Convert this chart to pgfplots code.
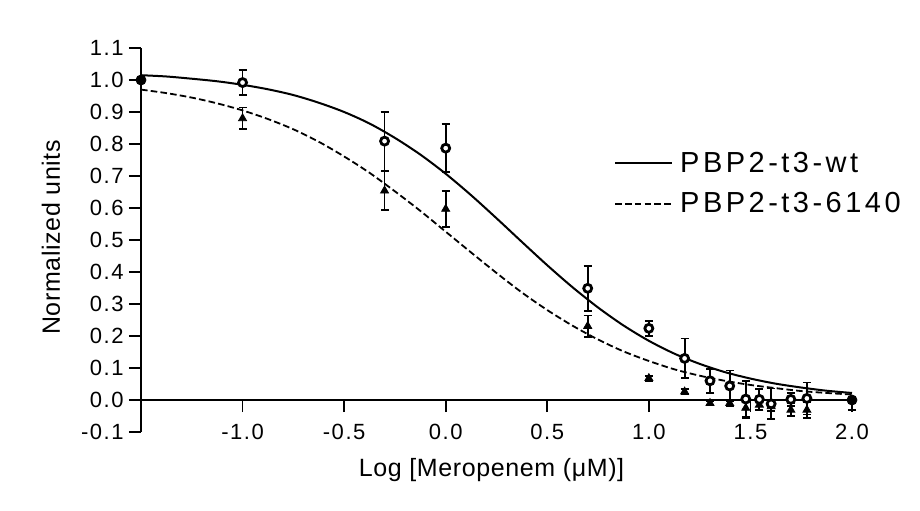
\documentclass[border=0pt]{standalone}
\usepackage{fontspec}
\setmainfont{Liberation Sans}
\newfontfamily\tickfont[LetterSpace=7]{Liberation Sans}
\newfontfamily\legfont[LetterSpace=12]{Liberation Sans}
\newfontfamily\labfont[LetterSpace=2.5]{Liberation Sans}
\usepackage{pgfplots}
\pgfplotsset{compat=1.18}

\begin{document}
\begin{tikzpicture}
% page = 920x510 px at 0.5pt per px
\useasboundingbox (-70.5pt,-39pt) rectangle (389.5pt,216pt);
\begin{axis}[
    at={(0pt,0pt)}, anchor=south west,
    scale only axis, width=355.5pt, height=192pt,
    xmin=-1.5, xmax=2.0, ymin=-0.1, ymax=1.1,
    clip=false,
    axis x line=middle, axis y line=left,
    axis line style={-, line width=0.9pt, black},
    hide obscured x ticks=false, hide obscured y ticks=false,
    xtick={-1,-0.5,0,0.5,1,1.5,2},
    ytick={-0.1,0,0.1,0.2,0.3,0.4,0.5,0.6,0.7,0.8,0.9,1.0,1.1},
    minor tick num=0,
    tick align=outside, major tick length=6pt,
    tick style={line width=0.9pt, black},
    /pgf/number format/fixed, /pgf/number format/fixed zerofill,
    /pgf/number format/precision=1,
    /pgf/number format/assume math mode=true,
    every tick label/.append style={font=\tickfont\fontsize{11}{13}\selectfont},
    xticklabel style={anchor=center, yshift=-10pt},
    yticklabel style={inner sep=0pt, xshift=-2.5pt},
    every axis x label/.style={at={(axis description cs:0.493,-0.1)}, anchor=center},
    every axis y label/.style={at={(axis description cs:-0.1266,0.5065)}, anchor=center, rotate=90},
    label style={font=\labfont\fontsize{12.5}{15}\selectfont},
    xlabel={Log [Meropenem (μM)]},
    ylabel={Normalized units},
    legend style={draw=none, fill=none, at={(axis description cs:0.665,0.647)},
        anchor=west, font=\legfont\fontsize{14.5}{17}\selectfont,
        row sep=6.5pt, column sep=2.5pt,
        nodes={inner sep=1pt}, inner sep=0pt},
    legend cell align=left,
    legend image code/.code={\draw[#1] (0pt,0pt) -- (28.5pt,0pt);},
    error bars/error bar style={line width=0.9pt, black},
    error bars/error mark options={rotate=90, line width=0.9pt, mark size=2pt, black},
]
% fitted curves
\addplot[black, line width=1pt, smooth] coordinates {
  (-1.5,1.015) (-1.375,1.011) (-1.25,1.004) (-1.125,0.996) (-1.0,0.985)
  (-0.875,0.971) (-0.75,0.953) (-0.625,0.929) (-0.5,0.900) (-0.375,0.864)
  (-0.25,0.819) (-0.125,0.767) (0,0.707) (0.125,0.640) (0.25,0.568)
  (0.375,0.494) (0.5,0.421) (0.625,0.352) (0.75,0.289) (0.875,0.233)
  (1.0,0.185) (1.125,0.145) (1.25,0.113) (1.375,0.087) (1.5,0.067)
  (1.625,0.051) (1.75,0.039) (1.875,0.029) (2.0,0.022)};
\addlegendentry{PBP2-t3-wt}
\addplot[black, line width=0.9pt, dash pattern=on 3.3pt off 1.6pt, smooth] coordinates {
  (-1.5,0.970) (-1.375,0.959) (-1.25,0.945) (-1.125,0.927) (-1.0,0.905)
  (-0.875,0.878) (-0.75,0.846) (-0.625,0.807) (-0.5,0.761) (-0.375,0.710)
  (-0.25,0.652) (-0.125,0.591) (0,0.526) (0.125,0.461) (0.25,0.397)
  (0.375,0.336) (0.5,0.281) (0.625,0.232) (0.75,0.189) (0.875,0.152)
  (1.0,0.122) (1.125,0.096) (1.25,0.076) (1.375,0.060) (1.5,0.047)
  (1.625,0.037) (1.75,0.028) (1.875,0.022) (2.0,0.017)};
\addlegendentry{PBP2-t3-6140}
% PBP2-t3-6140 (triangles)
\addplot[forget plot, only marks, black, mark=triangle*, mark size=2.3pt,
  error bars/.cd, y dir=both, y explicit] coordinates {
  (-1.0,0.880) +- (0,0.034)
  (-0.301,0.654) +- (0,0.060)
  (0.0,0.597) +- (0,0.057)
  (0.699,0.231) +- (0,0.033)
  (1.0,0.068) +- (0,0.008)
  (1.176,0.026) +- (0,0.008)
  (1.301,-0.010) +- (0,0.006)
  (1.398,-0.010) +- (0,0.010)
  (1.477,-0.025) +- (0,0.030)
  (1.544,-0.015) +- (0,0.015)
  (1.602,-0.020) +- (0,0.015)
  (1.699,-0.031) +- (0,0.020)
  (1.778,-0.031) +- (0,0.025)};
% PBP2-t3-wt (open circles)
\addplot[forget plot, only marks, black, mark=*, mark size=2pt,
  mark options={line width=1.4pt, fill=white},
  error bars/.cd, y dir=both, y explicit] coordinates {
  (-1.0,0.992) +- (0,0.040)
  (-0.301,0.809) +- (0,0.092)
  (0.0,0.787) +- (0,0.075)
  (0.699,0.349) +- (0,0.070)
  (1.0,0.224) +- (0,0.024)
  (1.176,0.130) +- (0,0.062)
  (1.301,0.060) +- (0,0.038)
  (1.398,0.044) +- (0,0.048)
  (1.477,0.003) +- (0,0.056)
  (1.544,0.002) +- (0,0.032)
  (1.602,-0.012) +- (0,0.048)
  (1.699,0.002) +- (0,0.020)
  (1.778,0.005) +- (0,0.050)};
% end points shared by both series
\addplot[forget plot, only marks, black, mark=*, mark size=2.5pt,
  error bars/.cd, y dir=minus, y explicit] coordinates {
  (-1.5,1.0) +- (0,0)
  (2.0,0.0) +- (0,0.03)};
\end{axis}
\end{tikzpicture}
\end{document}
